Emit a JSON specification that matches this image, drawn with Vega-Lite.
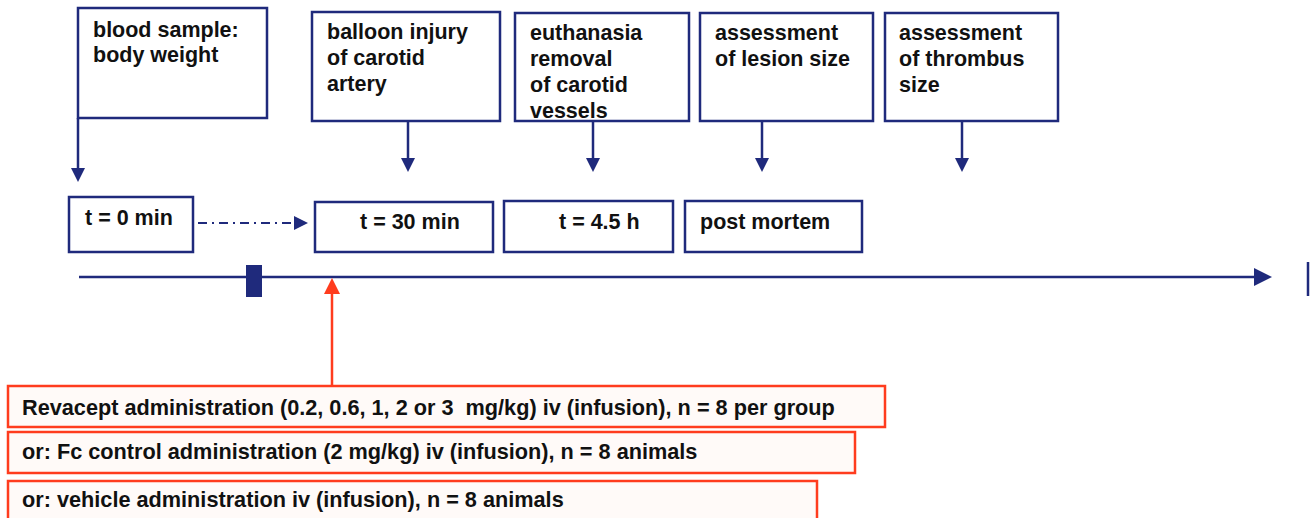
{
  "$schema": "https://vega.github.io/schema/vega-lite/v6.json",
  "width": 1310,
  "height": 518,
  "padding": 0,
  "autosize": {"type": "fit", "contains": "padding"},
  "background": "white",
  "config": {"view": {"stroke": null}},
  "datasets": {
    "navyBoxes": [
      {"x": 78, "x2": 267, "y": 8, "y2": 118},
      {"x": 312, "x2": 500, "y": 12, "y2": 121},
      {"x": 515, "x2": 689, "y": 13, "y2": 121},
      {"x": 700, "x2": 873, "y": 13, "y2": 121},
      {"x": 885, "x2": 1058, "y": 13, "y2": 121},
      {"x": 69, "x2": 193, "y": 197, "y2": 252},
      {"x": 315, "x2": 493, "y": 202, "y2": 252},
      {"x": 504, "x2": 673, "y": 201, "y2": 252},
      {"x": 685, "x2": 862, "y": 201, "y2": 252}
    ],
    "marker": [{"x": 246, "x2": 262, "y": 265, "y2": 297}],
    "redBoxes": [
      {"x": 8, "x2": 885, "y": 386, "y2": 427},
      {"x": 8, "x2": 855, "y": 432, "y2": 473},
      {"x": 8, "x2": 817, "y": 481, "y2": 530}
    ],
    "navyLines": [
      {"x": 78, "y": 118, "x2": 78, "y2": 170},
      {"x": 408, "y": 121, "x2": 408, "y2": 160},
      {"x": 593, "y": 121, "x2": 593, "y2": 160},
      {"x": 762, "y": 121, "x2": 762, "y2": 160},
      {"x": 962, "y": 121, "x2": 962, "y2": 160},
      {"x": 79, "y": 277, "x2": 1258, "y2": 277},
      {"x": 1308, "y": 262, "x2": 1308, "y2": 296}
    ],
    "dashLines": [{"x": 198, "y": 223, "x2": 296, "y2": 223}],
    "redLines": [{"x": 332, "y": 386, "x2": 332, "y2": 292}],
    "downHeads": [
      {"x": 78, "y": 175},
      {"x": 408, "y": 165},
      {"x": 593, "y": 165},
      {"x": 762, "y": 165},
      {"x": 962, "y": 165}
    ],
    "rightSmallHeads": [{"x": 301, "y": 223}],
    "rightBigHeads": [{"x": 1263, "y": 277}],
    "upHeads": [{"x": 332, "y": 286}],
    "labels": [
      {"t": "blood sample:", "x": 93, "y": 31},
      {"t": "body weight", "x": 93, "y": 56},
      {"t": "balloon injury", "x": 327, "y": 33},
      {"t": "of carotid", "x": 327, "y": 59},
      {"t": "artery", "x": 327, "y": 85},
      {"t": "euthanasia", "x": 530, "y": 34},
      {"t": "removal", "x": 530, "y": 60},
      {"t": "of carotid", "x": 530, "y": 86},
      {"t": "vessels", "x": 530, "y": 112},
      {"t": "assessment", "x": 715, "y": 34},
      {"t": "of lesion size", "x": 715, "y": 60},
      {"t": "assessment", "x": 899, "y": 34},
      {"t": "of thrombus", "x": 899, "y": 60},
      {"t": "size", "x": 899, "y": 86},
      {"t": "t = 0 min", "x": 85, "y": 219},
      {"t": "t = 30 min", "x": 360, "y": 223},
      {"t": "t = 4.5 h", "x": 559, "y": 223},
      {"t": "post mortem", "x": 700, "y": 223}
    ],
    "redLabels": [
      {"t": "Revacept administration (0.2, 0.6, 1, 2 or 3\u00a0 mg/kg) iv (infusion), n = 8 per group", "x": 22, "y": 408},
      {"t": "or: Fc control administration (2 mg/kg) iv (infusion), n = 8 animals", "x": 22, "y": 452},
      {"t": "or: vehicle administration iv (infusion), n = 8 animals", "x": 22, "y": 500}
    ]
  },
  "layer": [
    {
      "data": {"name": "redBoxes"},
      "mark": {"type": "rect", "fill": "#fffaf8", "stroke": "#ff3c1e", "strokeWidth": 2.5, "clip": true},
      "encoding": {
        "x": {"field": "x", "type": "quantitative", "scale": {"domain": [0, 1310], "nice": false, "zero": false}, "axis": null},
        "y": {"field": "y", "type": "quantitative", "scale": {"domain": [0, 518], "nice": false, "zero": false, "reverse": true}, "axis": null},
        "x2": {"field": "x2"},
        "y2": {"field": "y2"}
      }
    },
    {
      "data": {"name": "navyBoxes"},
      "mark": {"type": "rect", "fill": "white", "stroke": "#1f2a7c", "strokeWidth": 2.5},
      "encoding": {
        "x": {"field": "x", "type": "quantitative", "scale": {"domain": [0, 1310], "nice": false, "zero": false}, "axis": null},
        "y": {"field": "y", "type": "quantitative", "scale": {"domain": [0, 518], "nice": false, "zero": false, "reverse": true}, "axis": null},
        "x2": {"field": "x2"},
        "y2": {"field": "y2"}
      }
    },
    {
      "data": {"name": "navyLines"},
      "mark": {"type": "rule", "stroke": "#1f2a7c", "strokeWidth": 2.5},
      "encoding": {
        "x": {"field": "x", "type": "quantitative", "scale": {"domain": [0, 1310], "nice": false, "zero": false}, "axis": null},
        "y": {"field": "y", "type": "quantitative", "scale": {"domain": [0, 518], "nice": false, "zero": false, "reverse": true}, "axis": null},
        "x2": {"field": "x2"},
        "y2": {"field": "y2"}
      }
    },
    {
      "data": {"name": "marker"},
      "mark": {"type": "rect", "fill": "#1f2a7c"},
      "encoding": {
        "x": {"field": "x", "type": "quantitative", "scale": {"domain": [0, 1310], "nice": false, "zero": false}, "axis": null},
        "y": {"field": "y", "type": "quantitative", "scale": {"domain": [0, 518], "nice": false, "zero": false, "reverse": true}, "axis": null},
        "x2": {"field": "x2"},
        "y2": {"field": "y2"}
      }
    },
    {
      "data": {"name": "dashLines"},
      "mark": {"type": "rule", "stroke": "#1f2a7c", "strokeWidth": 2, "strokeDash": [9, 5, 2, 5]},
      "encoding": {
        "x": {"field": "x", "type": "quantitative", "scale": {"domain": [0, 1310], "nice": false, "zero": false}, "axis": null},
        "y": {"field": "y", "type": "quantitative", "scale": {"domain": [0, 518], "nice": false, "zero": false, "reverse": true}, "axis": null},
        "x2": {"field": "x2"},
        "y2": {"field": "y2"}
      }
    },
    {
      "data": {"name": "redLines"},
      "mark": {"type": "rule", "stroke": "#ff3c1e", "strokeWidth": 2.5},
      "encoding": {
        "x": {"field": "x", "type": "quantitative", "scale": {"domain": [0, 1310], "nice": false, "zero": false}, "axis": null},
        "y": {"field": "y", "type": "quantitative", "scale": {"domain": [0, 518], "nice": false, "zero": false, "reverse": true}, "axis": null},
        "x2": {"field": "x2"},
        "y2": {"field": "y2"}
      }
    },
    {
      "data": {"name": "downHeads"},
      "mark": {"type": "point", "shape": "M-1,-1L1,-1L0,1Z", "size": 196, "filled": true, "fill": "#1f2a7c", "opacity": 1, "strokeWidth": 0},
      "encoding": {
        "x": {"field": "x", "type": "quantitative", "scale": {"domain": [0, 1310], "nice": false, "zero": false}, "axis": null},
        "y": {"field": "y", "type": "quantitative", "scale": {"domain": [0, 518], "nice": false, "zero": false, "reverse": true}, "axis": null}
      }
    },
    {
      "data": {"name": "rightSmallHeads"},
      "mark": {"type": "point", "shape": "M-1,-1L1,0L-1,1Z", "size": 196, "filled": true, "fill": "#1f2a7c", "opacity": 1, "strokeWidth": 0},
      "encoding": {
        "x": {"field": "x", "type": "quantitative", "scale": {"domain": [0, 1310], "nice": false, "zero": false}, "axis": null},
        "y": {"field": "y", "type": "quantitative", "scale": {"domain": [0, 518], "nice": false, "zero": false, "reverse": true}, "axis": null}
      }
    },
    {
      "data": {"name": "rightBigHeads"},
      "mark": {"type": "point", "shape": "M-1,-1L1,0L-1,1Z", "size": 324, "filled": true, "fill": "#1f2a7c", "opacity": 1, "strokeWidth": 0},
      "encoding": {
        "x": {"field": "x", "type": "quantitative", "scale": {"domain": [0, 1310], "nice": false, "zero": false}, "axis": null},
        "y": {"field": "y", "type": "quantitative", "scale": {"domain": [0, 518], "nice": false, "zero": false, "reverse": true}, "axis": null}
      }
    },
    {
      "data": {"name": "upHeads"},
      "mark": {"type": "point", "shape": "M-1,1L0,-1L1,1Z", "size": 256, "filled": true, "fill": "#ff3c1e", "opacity": 1, "strokeWidth": 0},
      "encoding": {
        "x": {"field": "x", "type": "quantitative", "scale": {"domain": [0, 1310], "nice": false, "zero": false}, "axis": null},
        "y": {"field": "y", "type": "quantitative", "scale": {"domain": [0, 518], "nice": false, "zero": false, "reverse": true}, "axis": null}
      }
    },
    {
      "data": {"name": "labels"},
      "mark": {"type": "text", "align": "left", "baseline": "middle", "font": "Liberation Sans", "fontWeight": "bold", "fontSize": 21.5, "fill": "#111111"},
      "encoding": {
        "x": {"field": "x", "type": "quantitative", "scale": {"domain": [0, 1310], "nice": false, "zero": false}, "axis": null},
        "y": {"field": "y", "type": "quantitative", "scale": {"domain": [0, 518], "nice": false, "zero": false, "reverse": true}, "axis": null},
        "text": {"field": "t", "type": "nominal"}
      }
    },
    {
      "data": {"name": "redLabels"},
      "mark": {"type": "text", "align": "left", "baseline": "middle", "font": "Liberation Sans", "fontWeight": "bold", "fontSize": 21.7, "fill": "#111111"},
      "encoding": {
        "x": {"field": "x", "type": "quantitative", "scale": {"domain": [0, 1310], "nice": false, "zero": false}, "axis": null},
        "y": {"field": "y", "type": "quantitative", "scale": {"domain": [0, 518], "nice": false, "zero": false, "reverse": true}, "axis": null},
        "text": {"field": "t", "type": "nominal"}
      }
    }
  ]
}
